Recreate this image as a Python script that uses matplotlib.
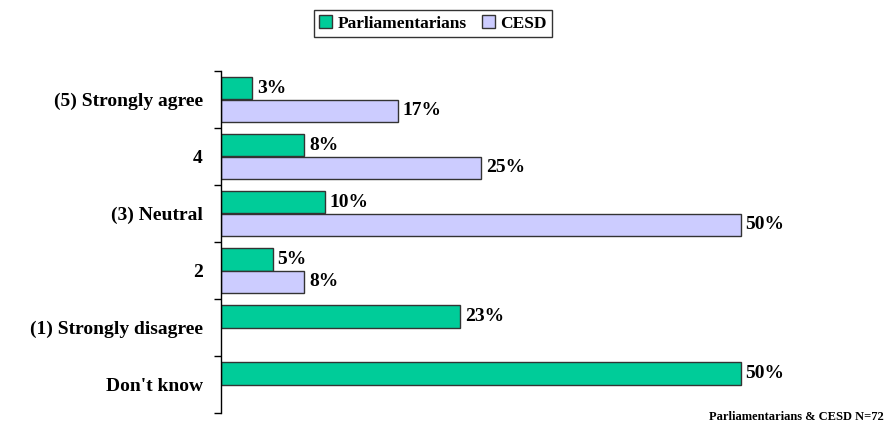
import numpy as np
import matplotlib
matplotlib.use("Agg")
import matplotlib.pyplot as plt
from matplotlib.ticker import FixedLocator

categories = ["(5) Strongly agree", "4", "(3) Neutral", "2", "(1) Strongly disagree", "Don't know"]
parliamentarians = [3, 8, 10, 5, 23, 50]
cesd = [17, 25, 50, 8, 0, 0]
series_names = ["Parliamentarians", "CESD"]
footnote = "Parliamentarians & CESD N=72"

green = "#00CC99"
lilac = "#CCCCFF"
edge = "#333333"

plt.rcParams["font.family"] = ["Liberation Serif", "DejaVu Serif"]
plt.rcParams["font.weight"] = "bold"

fig = plt.figure(figsize=(8.94, 4.26), dpi=100)
ax = fig.add_axes([221 / 894, 13 / 426, 640 / 894, 342 / 426])

y = np.arange(len(categories))
h = 0.40
p = np.array(parliamentarians, dtype=float)
c = np.array(cesd, dtype=float)

ax.barh(y - h / 2, p, height=h, color=green, edgecolor=edge, linewidth=1.0,
        label=series_names[0])
mask = c > 0
ax.barh(y[mask] + h / 2, c[mask], height=h, color=lilac, edgecolor=edge,
        linewidth=1.0, label=series_names[1])

val_size = 14
for yi, v in zip(y, p):
    if v > 0:
        ax.text(v + 0.45, yi - h / 2, f"{v:.0f}%", va="center", ha="left",
                fontsize=val_size, fontweight="bold")
for yi, v in zip(y, c):
    if v > 0:
        ax.text(v + 0.45, yi + h / 2, f"{v:.0f}%", va="center", ha="left",
                fontsize=val_size, fontweight="bold")

ax.set_xlim(0, 640 / 10.4)
ax.set_ylim(len(categories) - 0.5, -0.5)

ax.set_yticks(y)
ax.set_yticklabels(categories, fontsize=14, fontweight="bold")
ax.yaxis.set_minor_locator(FixedLocator(np.arange(-0.5, len(categories), 1.0)))
ax.tick_params(axis="y", which="major", length=0, pad=13)
ax.tick_params(axis="y", which="minor", length=5, width=1, direction="out")
ax.set_xticks([])

for s in ("top", "right", "bottom"):
    ax.spines[s].set_visible(False)
ax.spines["left"].set_linewidth(1)

leg = fig.legend(loc="center", bbox_to_anchor=(433 / 894, 1 - 23.5 / 426), ncol=2,
                 frameon=True, fancybox=False, edgecolor="black",
                 prop={"size": 12.5, "weight": "bold"}, handlelength=0.75,
                 handleheight=0.75, handletextpad=0.3, columnspacing=0.9,
                 borderpad=0.3, borderaxespad=0)
leg.get_frame().set_linewidth(1.0)

fig.text(884 / 894, 1 - 417 / 426, footnote, ha="right", va="center",
         fontsize=9, fontweight="bold")

fig.savefig("out.png", dpi=100)
